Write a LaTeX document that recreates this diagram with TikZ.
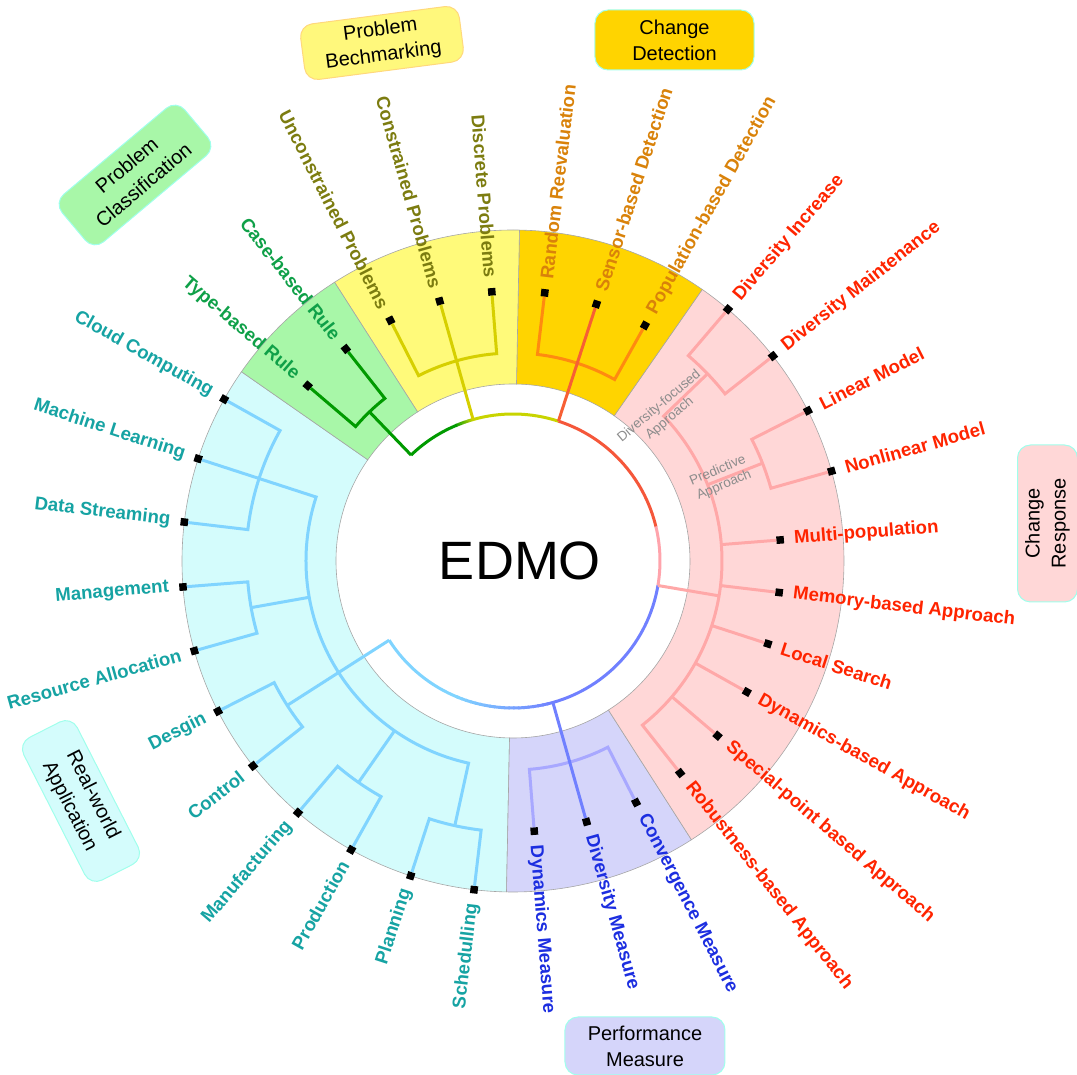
\documentclass[tikz,border=0pt]{standalone}
\usepackage{fontspec}
\setmainfont{Liberation Sans}
\definecolor{lbfill}{HTML}{D4FCFC}
\definecolor{lbline}{HTML}{80D4FF}
\definecolor{lbtext}{HTML}{16A3A3}
\definecolor{grfill}{HTML}{A8F7A8}
\definecolor{grline}{HTML}{009A00}
\definecolor{grtext}{HTML}{0FA048}
\definecolor{yefill}{HTML}{FFFA7A}
\definecolor{yeline}{HTML}{D6CF00}
\definecolor{yetext}{HTML}{7C7C10}
\definecolor{gofill}{HTML}{FFD400}
\definecolor{goline}{HTML}{FF8A10}
\definecolor{gotext}{HTML}{D9820A}
\definecolor{pkfill}{HTML}{FFD7D7}
\definecolor{pkline}{HTML}{FFA8A8}
\definecolor{pktext}{HTML}{FF2400}
\definecolor{blfill}{HTML}{D5D5FA}
\definecolor{blline}{HTML}{A8A8FF}
\definecolor{bldark}{HTML}{7080FF}
\definecolor{bltext}{HTML}{1C2EE0}
\definecolor{rootred}{HTML}{F5573A}
\definecolor{rootyel}{HTML}{C8D400}
\definecolor{rootpink}{HTML}{FFA4AC}
\definecolor{boxedge}{HTML}{A0FFEC}
\definecolor{yebox}{HTML}{FFF87C}
\definecolor{yeboxedge}{HTML}{FFD87C}
\tikzset{
  br/.style={line width=3pt, line join=miter},
  leafsq/.style={fill=black, inner sep=0pt, minimum size=7.5pt},
  lbl/.style={font=\bfseries\fontsize{18.6}{22}\selectfont, inner sep=0pt},
  sect/.style={draw=black!35, line width=0.6pt},
  cbox/.style={rounded corners=13pt, line width=1pt, draw=boxedge, align=center,
    font=\fontsize{20}{26}\selectfont, inner sep=0pt, text=black},
  greylbl/.style={text=black!45, font=\fontsize{13.5}{16}\selectfont, align=center, inner sep=0pt},
}
% #1 angle, #2 radius, #3 name, #4 text, #5 colour
\newcommand\leaf[5]{%
  \node[leafsq, rotate=#1] (#3) at (#1:#2pt) {};
  \pgfmathsetmacro\lr{#2+14}%
  \pgfmathtruncatemacro\isleft{((#1>90)&&(#1<270))?1:0}%
  \ifnum\isleft=1
    \pgfmathsetmacro\rot{#1+180}%
    \node[lbl, text=#5, rotate=\rot, anchor=east] (#3-t) at (#1:\lr pt) {#4};
  \else
    \node[lbl, text=#5, rotate=#1, anchor=west] (#3-t) at (#1:\lr pt) {#4};
  \fi
}
\newcommand\sector[3]{%
  \filldraw[sect, fill=#3] (#1:177pt) arc[start angle=#1, end angle=#2, radius=177pt]
    -- (#2:331pt) arc[start angle=#2, end angle=#1, radius=331pt] -- cycle;}
% gradient arc: #1 start, #2 end, #3 radius, #4 c1, #5 c2
\newcommand\gradarc[5]{%
  \foreach \i in {1,...,20}{%
    \pgfmathsetmacro\aa{#1+(#2-#1)*(\i-1)/20}%
    \pgfmathsetmacro\bb{#1+(#2-#1)*(\i+0.3)/20}%
    \pgfmathtruncatemacro\pp{100*(\i-0.5)/20}%
    \draw[line width=3pt, color=#5!\pp!#4] (\aa:#3pt) arc[start angle=\aa, end angle=\bb, radius=#3pt];
  }}
\begin{document}
\begin{tikzpicture}
\useasboundingbox (-513pt,-514pt) rectangle (564pt,561pt);
% sectors
\sector{145.125}{268.875}{lbfill}
\sector{-91.125}{-57.375}{blfill}
\sector{-57.375}{55.125}{pkfill}
\sector{55.125}{88.875}{gofill}
\sector{88.875}{122.625}{yefill}
\sector{122.625}{145.125}{grfill}

% leaves
\leaf{150.75}{331}{cloud}{Cloud Computing}{lbtext}
\leaf{162}{331}{ml}{Machine Learning}{lbtext}
\leaf{173.25}{331}{ds}{Data Streaming}{lbtext}
\leaf{184.5}{331}{mg}{Management}{lbtext}
\leaf{195.75}{331}{ra}{Resource Allocation}{lbtext}
\leaf{207}{331}{de}{Desgin}{lbtext}
\leaf{218.25}{331}{co}{Control}{lbtext}
\leaf{229.5}{331}{mf}{Manufacturing}{lbtext}
\leaf{240.75}{331}{pr}{Production}{lbtext}
\leaf{252}{331}{pl}{Planning}{lbtext}
\leaf{263.25}{331}{sc}{Schedulling}{lbtext}
\leaf{128.25}{270}{cb}{Case-based Rule}{grtext}
\leaf{139.5}{270}{tb}{Type-based Rule}{grtext}
\leaf{94.5}{270}{dp}{Discrete Problems}{yetext}
\leaf{105.75}{270}{cp}{Constrained Problems}{yetext}
\leaf{117}{270}{up}{Unconstrained Problems}{yetext}
\leaf{60.75}{270}{pd}{Population-based Detection}{gotext}
\leaf{72}{270}{sd}{Sensor-based Detection}{gotext}
\leaf{83.25}{270}{rr}{Random Reevaluation}{gotext}
\leaf{49.5}{331}{di}{Diversity Increase}{pktext}
\leaf{38.25}{331}{dm}{Diversity Maintenance}{pktext}
\leaf{27}{331}{lm}{Linear Model}{pktext}
\leaf{15.75}{331}{nm}{Nonlinear Model}{pktext}
\leaf{4.5}{268}{mp}{Multi-population}{pktext}
\leaf{-6.75}{268}{mb}{Memory-based Approach}{pktext}
\leaf{-18}{268}{ls}{Local Search}{pktext}
\leaf{-29.25}{268}{db}{Dynamics-based Approach}{pktext}
\leaf{-40.5}{269}{sp}{Special-point based Approach}{pktext}
\leaf{-51.75}{270}{rb}{Robustness-based Approach}{pktext}
\leaf{-63}{271}{cvm}{Convergence Measure}{bltext}
\leaf{-74.25}{271}{dvm}{Diversity Measure}{bltext}
\leaf{-85.5}{271}{dym}{Dynamics Measure}{bltext}

% root arc
\draw[br, rootred] (13.4:147pt) arc[start angle=13.4, end angle=72, radius=147pt];
\draw[br, rootyel] (72:147pt) arc[start angle=72, end angle=106, radius=147pt];
\gradarc{105.75}{113}{147}{rootyel}{grline}
\draw[br, grline] (112.5:147pt) arc[start angle=112.5, end angle=133.9, radius=147pt];
\draw[br, rootpink] (13.6:147pt) arc[start angle=13.6, end angle=-9.6, radius=147pt];
\draw[br, bldark] (-9.6:147pt) arc[start angle=-9.6, end angle=-74.5, radius=147pt];
\gradarc{-74.25}{-112}{147}{bldark}{lbline}
\draw[br, lbline] (-111.5:147pt) arc[start angle=-111.5, end angle=-147.4, radius=147pt];

% light blue subtree
\coordinate (lbroot) at (212.6:147pt);
\draw[br, lbline] (cloud) -- (150.75:267pt) arc[start angle=150.75, end angle=173.25, radius=267pt] -- (ds);
\draw[br, lbline] (mg) -- (184.5:266pt) arc[start angle=184.5, end angle=195.75, radius=266pt] -- (ra);
\draw[br, lbline] (de) -- (207:268pt) arc[start angle=207, end angle=218.25, radius=268pt] -- (co);
\draw[br, lbline] (mf) -- (229.5:270pt) arc[start angle=229.5, end angle=240.75, radius=270pt] -- (pr);
\draw[br, lbline] (pl) -- (252:271pt) arc[start angle=252, end angle=263.25, radius=271pt] -- (sc);
\draw[br, lbline] (ml) -- (162:207pt) arc[start angle=162, end angle=257.6, radius=207pt] -- (257.6:271pt);
\draw[br, lbline] (190.1:207pt) -- (190.1:266pt);
\draw[br, lbline] (235.1:207pt) -- (235.1:270pt);
\draw[br, lbline] (lbroot) -- (212.6:268pt);

% green subtree
\coordinate (grroot) at (133.9:147pt);
\draw[br, grline] (grroot) -- (133.9:207pt);
\draw[br, grline] (tb) -- (139.5:207pt) arc[start angle=139.5, end angle=128.25, radius=207pt] -- (cb);

% yellow subtree
\coordinate (yeroot) at (105.75:147pt);
\draw[br, yeline] (up) -- (117:208pt) arc[start angle=117, end angle=94.5, radius=208pt] -- (dp);
\draw[br, yeline] (yeroot) -- (cp);

% gold subtree
\coordinate (goroot) at (72:147pt);
\draw[br, goline] (pd) -- (60.75:208pt) arc[start angle=60.75, end angle=83.25, radius=208pt] -- (rr);
\draw[br, rootred!85!goline] (goroot) -- (sd);

% pink subtree
\coordinate (pkroot) at (-9.6:147pt);
\draw[br, pkline] (pkroot) -- (-9.6:209pt);
\draw[br, pkline] (rb) -- (-51.75:209pt) arc[start angle=-51.75, end angle=43.9, radius=209pt] -- (43.9:270pt);
\draw[br, pkline] (di) -- (49.5:270pt) arc[start angle=49.5, end angle=38.25, radius=270pt] -- (dm);
\draw[br, pkline] (21.4:209pt) -- (21.4:268pt);
\draw[br, pkline] (lm) -- (27:268pt) arc[start angle=27, end angle=15.75, radius=268pt] -- (nm);
\foreach \n/\a in {mp/4.5, mb/-6.75, ls/-18, db/-29.25, sp/-40.5}
  \draw[br, pkline] (\a:209pt) -- (\n);

% blue subtree
\coordinate (blroot) at (-74.25:147pt);
\draw[br, blline] (dym) -- (-85.5:209pt) arc[start angle=-85.5, end angle=-63, radius=209pt] -- (cvm);
\draw[br, bldark] (blroot) -- (dvm);

% grey internal labels
\node[greylbl, rotate=40] (dfa) at (151.5pt,148.5pt) {Diversity-focused\\Approach};
\node[greylbl, rotate=22.8] (pra) at (208pt,83pt) {Predictive\\Approach};

% centre
\node[font=\fontsize{54}{60}\selectfont, inner sep=0pt] (edmo) at (7pt,0pt) {EDMO};

% category boxes
\node[cbox, fill=grfill, rotate=40, minimum width=160pt, minimum height=62pt] (pcl) at (-378pt,386pt) {Problem\\Classification};
\node[cbox, fill=yebox, draw=yeboxedge, rotate=7.4, minimum width=160pt, minimum height=56pt] (pbm) at (-131pt,518pt) {Problem\\Bechmarking};
\node[cbox, fill=gofill, minimum width=159pt, minimum height=60pt] (cdt) at (161.5pt,521pt) {Change\\Detection};
\node[cbox, fill=pkfill, rotate=90, minimum width=157pt, minimum height=60pt] (crs) at (534.5pt,37.5pt) {Change\\Response};
\node[cbox, fill=lbfill, rotate=-63, minimum width=160pt, minimum height=60pt] (rwa) at (-432pt,-240pt) {Real-world\\Application};
\node[cbox, fill=blfill, minimum width=160pt, minimum height=58pt] (pms) at (132pt,-485pt) {Performance\\Measure};
\end{tikzpicture}
\end{document}
